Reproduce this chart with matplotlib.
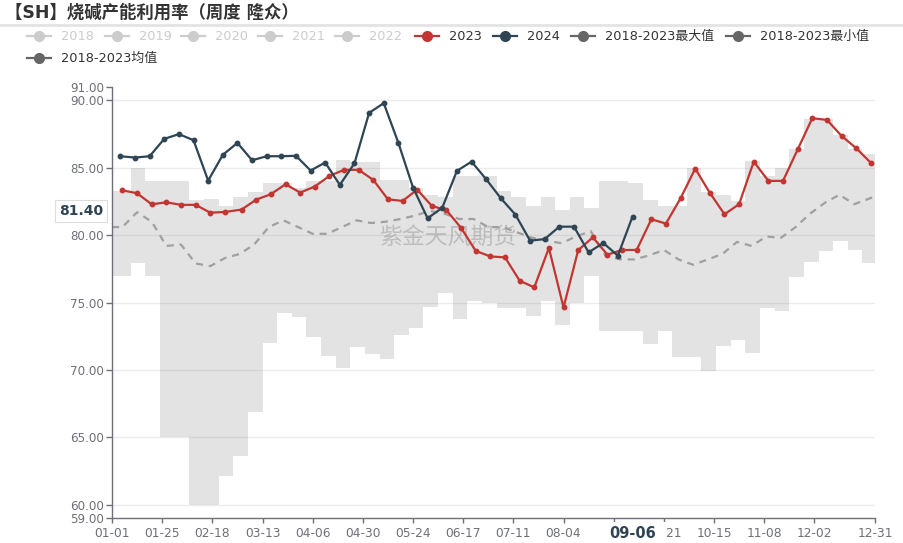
import numpy as np
import pandas as pd
import matplotlib
matplotlib.use('Agg')
import matplotlib.pyplot as plt
from matplotlib.lines import Line2D
from matplotlib.patches import Rectangle

plt.rcParams['font.family'] = ['DejaVu Sans', 'Noto Sans CJK SC']

# ---------------- data ----------------
title = "【SH】烧碱产能利用率（周度 隆众）"
calendar_start = "2024-01-01"   # leap-year calendar used for the MM-DD axis

# 2023 weekly (Fridays)
dates_2023 = pd.date_range("2023-01-06", periods=52, freq="7D")
vals_2023 = [83.33, 83.11, 82.29, 82.44, 82.25, 82.25, 81.67, 81.72, 81.90, 82.64,
             83.04, 83.78, 83.16, 83.61, 84.40, 84.85, 84.85, 84.10, 82.66, 82.54,
             83.38, 82.17, 81.85, 80.54, 78.83, 78.42, 78.35, 76.62, 76.12, 79.05,
             74.63, 78.88, 79.84, 78.55, 78.90, 78.90, 81.18, 80.86, 82.74, 84.94,
             83.14, 81.55, 82.30, 85.46, 84.03, 84.03, 86.36, 88.68, 88.56, 87.37,
             86.46, 85.37]

# 2024 weekly (Fridays)
dates_2024 = pd.date_range("2024-01-05", periods=36, freq="7D")
vals_2024 = [85.86, 85.76, 85.86, 87.15, 87.50, 87.05, 84.05, 85.96, 86.85, 85.56,
             85.86, 85.86, 85.89, 84.80, 85.39, 83.73, 85.34, 89.08, 89.80, 86.85,
             83.53, 81.25, 82.04, 84.77, 85.46, 84.15, 82.74, 81.52, 79.59, 79.71,
             80.63, 80.63, 78.72, 79.42, 78.48, 81.38]

# 2018-2023 max / min (weekly steps)
band_dates = ["01-01"] + list(pd.date_range("2024-01-03", periods=52, freq="7D").strftime("%m-%d"))
band_max = [83.3, 83.3, 85.0, 84.0, 84.0, 84.0, 82.6, 82.7, 82.2, 82.8, 83.2, 83.9, 83.9,
            83.5, 84.0, 84.0, 85.6, 85.4, 85.4, 84.1, 84.1, 83.5, 83.0, 82.8, 84.4, 84.4,
            84.4, 83.3, 82.8, 82.2, 82.8, 81.9, 82.8, 82.0, 84.0, 84.0, 83.9, 82.6, 82.2,
            82.2, 85.0, 83.2, 83.0, 82.5, 85.5, 84.4, 85.0, 86.4, 88.6, 88.6, 87.4, 86.4,
            86.0]
band_min = [77.0, 77.0, 77.9, 77.0, 65.0, 65.0, 60.0, 60.0, 62.1, 63.6, 66.9, 72.0, 74.2,
            73.9, 72.45, 71.0, 70.1, 71.7, 71.2, 70.8, 72.6, 73.1, 74.7, 75.7, 73.8, 75.1,
            75.0, 74.6, 74.6, 74.0, 75.1, 73.3, 75.0, 77.0, 72.9, 72.9, 72.9, 71.9, 72.9,
            70.95, 70.95, 69.9, 71.75, 72.2, 71.25, 74.6, 74.4, 76.9, 78.0, 78.8, 79.6,
            78.9, 77.9]

# 2018-2023 mean
mean_dates = (["01-01"] + list(pd.date_range("2024-01-06", periods=52, freq="7D").strftime("%m-%d"))
              + ["12-31"])
mean_vals = [80.6,
             80.6, 81.7, 81.0, 79.2, 79.3, 77.9, 77.7, 78.3, 78.6, 79.3, 80.6, 81.1, 80.6,
             80.1, 80.1, 80.6, 81.1, 80.9, 81.0, 81.2, 81.45, 81.8, 81.6, 81.2, 81.2, 80.6,
             80.6, 80.2, 79.8, 79.6, 79.4, 79.9, 80.3, 78.5, 78.2, 78.2, 78.5, 78.9, 78.2,
             77.8, 78.2, 78.6, 79.5, 79.2, 79.9, 79.8, 80.6, 81.6, 82.4, 83.0, 82.3, 82.7,
             82.9]

y_ticks = [59, 60, 65, 70, 75, 80, 85, 90, 91]
x_tick_dates = ["01-01", "01-25", "02-18", "03-13", "04-06", "04-30", "05-24", "06-17",
                "07-11", "08-04", "08-28", "09-21", "10-15", "11-08", "12-02", "12-31"]
hidden_tick_labels = ["08-28"]          # covered by the axis-pointer label in the reference
pointer_date = "09-06"
pointer_value = 81.40
watermark = "紫金天风期货"

legend_items = ["2018", "2019", "2020", "2021", "2022", "2023", "2024",
                "2018-2023最大值", "2018-2023最小值", "2018-2023均值"]

# ---------------- helpers ----------------
t0 = pd.Timestamp(calendar_start)


def day_index(mmdd):
    return (pd.Timestamp(f"2024-{mmdd}") - t0).days


x23 = [day_index(d.strftime("%m-%d")) for d in dates_2023]
x24 = [day_index(d.strftime("%m-%d")) for d in dates_2024]
xb = [day_index(d) for d in band_dates] + [day_index("12-31")]
bmax = band_max + [band_max[-1]]
bmin = band_min + [band_min[-1]]
xm = [day_index(d) for d in mean_dates]

C23 = "#c23531"
C24 = "#2f4554"
CGRAY = "#666666"
AXC = "#6e7079"

# ---------------- figure ----------------
W, H = 904, 543
fig = plt.figure(figsize=(W / 100, H / 100), dpi=100)
L, R, T, B = 112, 875, 87, 518
ax = fig.add_axes([L / W, 1 - B / H, (R - L) / W, (B - T) / H])

ax.set_xlim(0, day_index("12-31"))
ax.set_ylim(59, 91)

for v in range(60, 91, 5):
    ax.axhline(v, color="#ececec", lw=1.0, zorder=0.5)

ax.fill_between(xb, bmin, bmax, step="post", color=(0.5, 0.5, 0.5), alpha=0.215,
                linewidth=0, zorder=1)

ax.text(0.44, 0.652, watermark, transform=ax.transAxes, fontsize=16.5,
        family=["Noto Sans CJK SC"], color="#808080", alpha=0.38,
        ha="center", va="center", zorder=1.5)

ax.plot(xm, mean_vals, color="#a0a0a0", lw=1.6, linestyle=(0, (3.2, 2.6)), zorder=2)
ax.plot(x23, vals_2023, color=C23, lw=1.6, marker="o", ms=3.2, zorder=3)
ax.plot(x24, vals_2024, color=C24, lw=1.6, marker="o", ms=3.2, zorder=4)

# axes styling
for s in ["top", "right"]:
    ax.spines[s].set_visible(False)
ax.spines["left"].set_color(AXC)
ax.spines["bottom"].set_color(AXC)
ax.spines["left"].set_linewidth(1.0)
ax.spines["bottom"].set_linewidth(1.0)

ax.set_yticks(y_ticks)
ax.set_yticklabels([f"{v:.2f}" for v in y_ticks])
xt = [day_index(s) for s in x_tick_dates]
ax.set_xticks(xt)
ax.set_xticklabels(["" if s in hidden_tick_labels else s for s in x_tick_dates])
ax.tick_params(axis="y", colors=AXC, labelcolor=AXC, length=4.3, width=1, pad=1.5,
               labelsize=8.6)
ax.tick_params(axis="x", colors=AXC, labelcolor=AXC, length=3.6, width=1, pad=3,
               labelsize=8.8)

# axis pointer labels
pxx = ax.transData.transform((day_index(pointer_date), 59))[0]
fig.add_artist(Rectangle(((pxx - 34) / W, 0), 68 / W, (543 - 522) / H,
                         transform=fig.transFigure, fc="white", ec="none", zorder=9))
fig.text(pxx / W, 1 - 533 / H, pointer_date, ha="center", va="center", fontsize=10.5,
         fontweight="bold", color=C24, zorder=10)
py = ax.transData.transform((0, pointer_value))[1]
fig.text(81 / W, (py + 5) / H, f"{pointer_value:.2f}", ha="center", va="center",
         fontsize=10, fontweight="bold", color=C24, zorder=10,
         bbox=dict(boxstyle="square,pad=0.3", fc="white", ec="#dddddd", lw=0.8))

# title + divider
fig.text(5 / W, 1 - 13 / H, title, ha="left", va="center", fontsize=12.5,
         fontweight="bold", color="#333333", family=["DejaVu Sans", "Noto Sans CJK SC"])
fig.add_artist(Line2D([0, 1], [1 - 25 / H, 1 - 25 / H], transform=fig.transFigure,
                      color="#e3e3e3", lw=2))

# legend (manual)
leg_pos = [(39, 36), (117, 36), (193, 36), (270, 36), (347, 36), (427, 36), (505, 36),
           (583, 36), (738, 36), (39, 58)]
leg_colors = ["#cccccc"] * 5 + [C23, C24, CGRAY, CGRAY, CGRAY]
leg_text_colors = ["#cccccc"] * 5 + ["#333333"] * 5
for name, (cx, cy), c, tc in zip(legend_items, leg_pos, leg_colors, leg_text_colors):
    yy = 1 - cy / H
    fig.add_artist(Line2D([(cx - 12) / W, (cx + 12) / W], [yy, yy], transform=fig.transFigure,
                          color=c, lw=1.6))
    fig.add_artist(Line2D([cx / W], [yy], transform=fig.transFigure, color=c, marker="o",
                          ms=7, lw=0))
    fig.text((cx + 22) / W, yy, name, ha="left", va="center", fontsize=9.3, color=tc)

fig.savefig("out.png", dpi=100)
